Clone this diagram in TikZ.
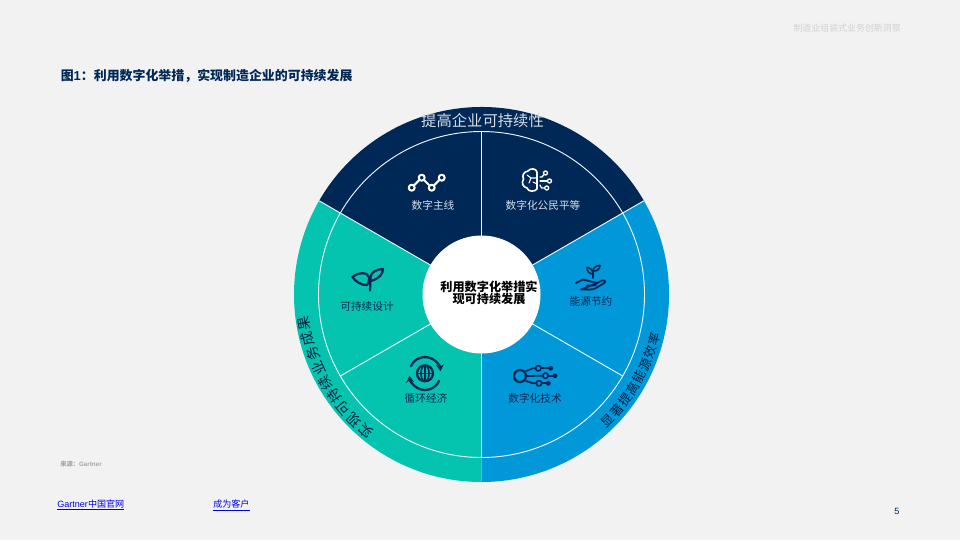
\documentclass[tikz,border=0pt]{standalone}
\usepackage{fontspec}
\setmainfont{Noto Sans CJK SC}
\newfontfamily\latin{Liberation Sans}
\usetikzlibrary{arrows.meta,calc}
\definecolor{navy}{HTML}{002856}
\definecolor{skyblue}{HTML}{0098D8}
\definecolor{tealgreen}{HTML}{05C4AF}
\definecolor{paper}{HTML}{F2F2F2}
\definecolor{linkblue}{HTML}{0000E6}
\definecolor{lightlabel}{HTML}{D5DCE6}
\tikzset{
  iconlabel/.style={inner sep=0pt,font=\fontsize{8}{10}\selectfont},
  arcchar/.style={inner sep=0pt,text=navy!80!black},
  spoke/.style={draw=white!92!skyblue,line width=.7pt},
  wicon/.style={draw=white,line width=1.5pt,line cap=round,line join=round},
  nicon/.style={draw=navy,line width=1.7pt,line cap=round,line join=round}
}
\begin{document}
\begin{tikzpicture}[x=.75pt,y=-.75pt]
      \useasboundingbox (0,0) rectangle (960,540);
      \fill[paper] (0,0) rectangle (960,540);
      \coordinate (O) at (481.5,294.5);
      \fill[navy] (O)--++(210:187.5) arc[start angle=210,end angle=330,radius=187.5]--cycle;
      \fill[skyblue] (O)--++(-30:187.5) arc[start angle=-30,end angle=90,radius=187.5]--cycle;
      \fill[tealgreen] (O)--++(90:187.5) arc[start angle=90,end angle=210,radius=187.5]--cycle;
      \draw[spoke] (O) circle[radius=163];
      \draw[spoke] (O)--++(210:187.5);
      \draw[spoke] (O)--++(330:187.5);
      \draw[spoke] (O)--++(270:163);
      \draw[spoke] (O)--++(30:163);
      \draw[spoke] (O)--++(90:163);
      \draw[spoke] (O)--++(150:163);
      \node[circle,fill=white,minimum size=88.5pt,inner sep=0pt] (hub) at (O) {};
      \node[inner sep=0pt,align=center,font=\fontsize{9.1}{9}\selectfont\bfseries] (hubtext) at (489,293) {利用数字化举措实\\现可持续发展};
      \node[inner sep=0pt,text=lightlabel,font=\fontsize{11.5}{12}\selectfont] (toptext) at (482.5,120.5) {提高企业可持续性};
      \foreach \ch [count=\i, evaluate=\i as \a using 130.3+5.04*(\i-1)] in {实,现,可,持,续,业,务,成,果}
        \node[arcchar,rotate={-\a-90},font=\fontsize{10.5}{11}\selectfont] (lf\i) at ($(O)+(\a:179)$) {\ch};
      \foreach \ch [count=\i, evaluate=\i as \a using 44.9-4.36*(\i-1)] in {显,著,提,高,能,源,效,率}
        \node[arcchar,rotate={90-\a},font=\fontsize{9.5}{10}\selectfont] (rt\i) at ($(O)+(\a:178)$) {\ch};

      \node[iconlabel,text=lightlabel] (thread) at (433,205) {数字主线};
      \node[iconlabel,text=lightlabel] (equality) at (543,205) {数字化公民平等};
      \node[iconlabel,text=navy] (energy) at (591,301) {能源节约};
      \node[iconlabel,text=navy] (tech) at (535,398) {数字化技术};
      \node[iconlabel,text=navy] (circular) at (426,398) {循环经济};
      \node[iconlabel,text=navy] (design) at (367,306) {可持续设计};

      \draw[wicon] (411.7,187.7)--(421.7,177.7)--(431.7,187.7)--(441.7,177.7);
      \foreach \p in {(411.7,187.7),(421.7,177.7),(431.7,187.7),(441.7,177.7)}
        \draw[wicon,fill=navy] \p circle[radius=3];

      \draw[wicon,line width=1.2pt] (537,172) .. controls (536,168) and (530,168) .. (528,171)
        .. controls (523,172) and (522,176) .. (523.5,179)
        .. controls (521,183) and (523,187) .. (527,188)
        .. controls (528,192) and (535,192) .. (537,189)--cycle;
      \draw[wicon,line width=.8pt] (537,178)--(531,178)--(527,175);
      \draw[wicon,line width=.8pt] (531,178)--(529,183);
      \draw[wicon,line width=.8pt] (537,184)--(533,182);
      \draw[wicon,line width=1pt] (540,177)--(542,177)--(543.5,175);
      \draw[wicon,line width=1pt] (540,181)--(547,181);
      \draw[wicon,line width=1pt] (540,185)--(541.5,188)--(544.5,188);
      \foreach \p in {(545.5,173),(549.5,181),(546.7,188)}
        \draw[wicon,line width=1pt,fill=navy] \p circle[radius=2];

      \draw[nicon] (352.5,277) .. controls (358,272) and (368,272) .. (369,277)
        .. controls (369.5,281) and (368,284) .. (367,285)
        .. controls (361,285.5) and (355,281) .. (352.5,277)--cycle;
      \draw[nicon] (370,290.5)--(370.5,277) .. controls (371,272) and (377,269) .. (383,269)
        .. controls (383,274) and (379,279) .. (370.5,281);

      \draw[nicon] (425,373.3) circle[radius=8];
      \draw[nicon,line width=1.2pt] (417,373.3)--(433,373.3);
      \draw[nicon,line width=1.2pt] (425,365.3)--(425,381.3);
      \draw[nicon,line width=1.2pt] (425,373.3) ellipse[x radius=4,y radius=8];
      \draw[nicon,-{Stealth[length=5pt,width=6pt]}] (411,366) arc[start angle=205,end angle=355,radius=15.5];
      \draw[nicon,-{Stealth[length=5pt,width=6pt]}] (439,381) arc[start angle=25,end angle=175,radius=15.5];

      \draw[nicon] (520,376) circle[radius=6];
      \draw[nicon,line width=1.3pt] (526,371)--(533,368.3)--(535.5,368.3);
      \draw[nicon,line width=1.3pt] (527,376)--(542.5,375.7);
      \draw[nicon,line width=1.3pt] (526,381)--(533,383.3)--(536,383.3);
      \draw[nicon,line width=1.3pt] (541,368.3)--(550,368.3);
      \draw[nicon,line width=1.3pt] (548.5,375.7)--(555,375.7);
      \draw[nicon,line width=1.3pt] (542,383.3)--(548,383.3);
      \foreach \p in {(538.3,368.3),(545.5,375.7),(539,383.3)}
        \draw[nicon,line width=1.2pt] \p circle[radius=2.7];
      \foreach \p in {(550.7,368.3),(555,375.7),(548.3,383.3)}
        \fill[navy] \p circle[radius=2.4];

      \draw[nicon,line width=1.4pt] (593,278)--(593,271);
      \draw[nicon,line width=1.2pt] (593,274) .. controls (589,274) and (587,271) .. (587,267.5) .. controls (590,267.5) and (593,270) .. (593,274);
      \draw[nicon,line width=1.2pt] (593,271) .. controls (593,268) and (596,265.5) .. (600,265.5) .. controls (600,269) and (597,271.5) .. (593,271);
      \draw[nicon,line width=1.4pt] (576,283)--(583,279.5)--(591,281.5)--(596,282.5)
        .. controls (597,285) and (595,285.5) .. (593,285.5)--(587,285.5);
      \draw[nicon,line width=1.4pt] (596,283.5)--(602,280.5) .. controls (604,279.5) and (606,281) .. (605,282.5)
        --(595,288.5) .. controls (592,290) and (588,289.5) .. (581,289.5)--cycle;

      \node[inner sep=0pt,anchor=west,text=navy,font=\fontsize{9.7}{10}\selectfont\bfseries] (title) at (60.5,75.5) {图{\latin 1}：利用数字化举措，实现制造企业的可持续发展};
      \node[inner sep=0pt,anchor=east,text=black!18,font=\fontsize{6.7}{8}\selectfont] (header) at (901,28.5) {制造业组装式业务创新洞察};
      \node[inner sep=0pt,anchor=west,text=black!35,font=\fontsize{4.7}{5}\selectfont\bfseries] (source) at (60,464) {来源：{\latin Gartner}};
      \node[inner sep=0pt,anchor=west,text=linkblue,font=\fontsize{6.8}{8}\selectfont] (site) at (57,505) {\underline{{\latin Gartner}中国官网}};
      \node[inner sep=0pt,anchor=west,text=linkblue,font=\fontsize{6.8}{8}\selectfont] (client) at (213,505) {\underline{成为客户}};
      \node[inner sep=0pt,text=navy,font=\latin\fontsize{6.8}{8}\selectfont] (page) at (897,511) {5};
    \end{tikzpicture}
\end{document}
